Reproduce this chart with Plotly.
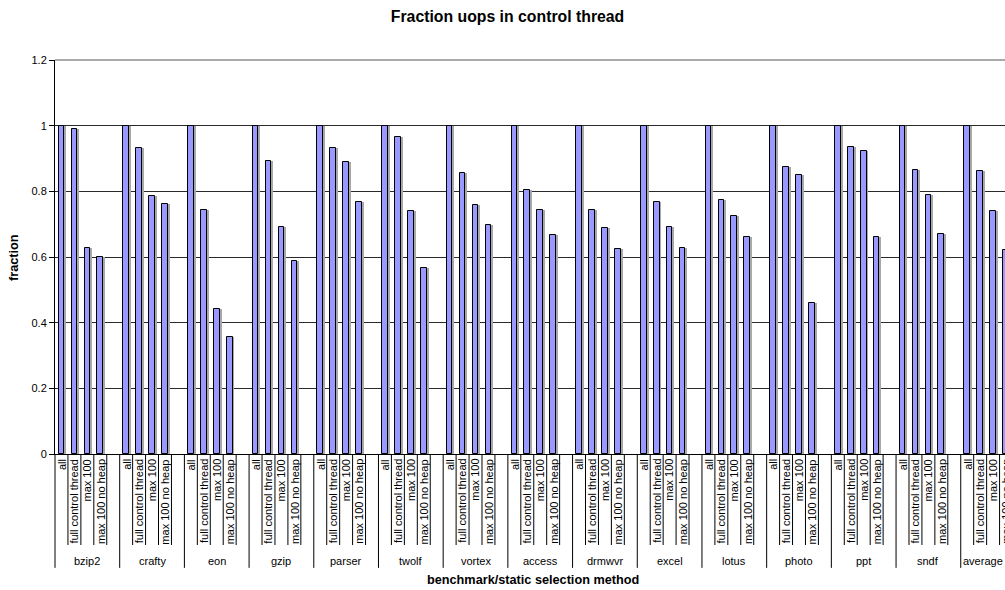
import plotly.graph_objects as go

# Benchmarks (outer category level) and static selection methods (inner level)
groups = ["bzip2", "crafty", "eon", "gzip", "parser", "twolf", "vortex",
          "access", "drmwvr", "excel", "lotus", "photo", "ppt", "sndf", "average"]
methods = ["all", "full control thread", "max 100", "max 100 no heap"]

# Fraction of uops in the control thread, one list per selection method
frac_all = [1.0, 1.0, 1.0, 1.0, 1.0, 1.0, 1.0, 1.0, 1.0, 1.0, 1.0, 1.0, 1.0, 1.0, 1.0]
frac_full = [0.991, 0.931, 0.744, 0.892, 0.933, 0.964, 0.857, 0.803, 0.742,
             0.767, 0.773, 0.873, 0.936, 0.864, 0.861]
frac_max100 = [0.627, 0.786, 0.441, 0.691, 0.888, 0.739, 0.757, 0.744, 0.688,
               0.691, 0.725, 0.849, 0.924, 0.789, 0.739]
frac_max100_noheap = [0.601, 0.760, 0.357, 0.588, 0.768, 0.566, 0.699, 0.666, 0.623,
                      0.626, 0.660, 0.460, 0.662, 0.669, 0.621]

series = [frac_all, frac_full, frac_max100, frac_max100_noheap]
SLOTS = len(methods) + 1          # one empty slot after each benchmark
X_MIN, X_MAX = -0.5, 72.92        # visible category window

xs, ys, labels = [], [], []
for g, name in enumerate(groups):
    for m, meth in enumerate(methods):
        xs.append(g * SLOTS + m)
        ys.append(series[m][g])
        labels.append(meth)

FONT = "Liberation Sans, Arial, sans-serif"
BAR_W = 0.44

fig = go.Figure()
# soft drop shadow behind each bar
fig.add_trace(go.Bar(x=xs, y=ys, width=BAR_W, offset=-BAR_W / 2 + 0.15,
                     marker=dict(color="#a8a8a8", line=dict(width=0)),
                     hoverinfo="skip", showlegend=False))
fig.add_trace(go.Bar(x=xs, y=ys, width=BAR_W, offset=-BAR_W / 2,
                     marker=dict(color="#9999ff", line=dict(color="#000000", width=1)),
                     showlegend=False))


def px(v):
    """data x -> paper x"""
    return (v - X_MIN) / (X_MAX - X_MIN)


shapes = []
annotations = []
n_slots = len(groups) * SLOTS
for k in range(n_slots + 1):
    b = k - 0.5
    if b > X_MAX:
        break
    is_group = (k % SLOTS == 0)
    shapes.append(dict(type="line", xref="paper", yref="paper",
                       x0=px(b), x1=px(b), y0=0, y1=-0.289 if is_group else -0.231,
                       line=dict(color="#000000", width=1)))

for x, lab in zip(xs, labels):
    annotations.append(dict(x=px(x), y=-0.008, xref="paper", yref="paper",
                            text=lab, textangle=-90, showarrow=False,
                            xanchor="center", yanchor="top",
                            font=dict(family=FONT, size=11, color="#000000")))

# benchmark names, centred on the visible part of each group
for g, name in enumerate(groups):
    lo = g * SLOTS - 0.5
    hi = min(lo + SLOTS, X_MAX)
    cx = (lo + hi) / 2
    annotations.append(dict(x=px(cx), y=-0.2716, xref="paper", yref="paper",
                            text=name, showarrow=False, xanchor="center", yanchor="middle",
                            font=dict(family=FONT, size=11, color="#000000")))

annotations.append(dict(x=0.503, y=-0.320, xref="paper", yref="paper",
                        text="<b>benchmark/static selection method</b>", showarrow=False,
                        xanchor="center", yanchor="middle",
                        font=dict(family=FONT, size=12.7, color="#000000")))
annotations.append(dict(x=-0.0432, y=0.5, xref="paper", yref="paper",
                        text="<b>fraction</b>", textangle=-90, showarrow=False,
                        xanchor="center", yanchor="middle",
                        font=dict(family=FONT, size=12.7, color="#000000")))

# top edge of the plot area
shapes.append(dict(type="line", xref="paper", yref="paper", x0=0, x1=1, y0=1, y1=1,
                   line=dict(color="#8c8c8c", width=1.5)))

fig.update_layout(
    width=1005, height=590,
    margin=dict(l=55, r=0, t=60, b=136),
    paper_bgcolor="#ffffff", plot_bgcolor="#ffffff",
    barmode="overlay", bargap=0,
    title=dict(text="<b>Fraction uops in control thread</b>", x=0.505, xanchor="center",
               y=1 - 16 / 590, yanchor="middle",
               font=dict(family=FONT, size=15.8, color="#000000")),
    font=dict(family=FONT, size=11, color="#000000"),
    xaxis=dict(range=[X_MIN, X_MAX], showticklabels=False, showgrid=False,
               zeroline=False, showline=True, linecolor="#000000", linewidth=1,
               ticks=""),
    yaxis=dict(range=[0, 1.2], dtick=0.2, showgrid=True, gridcolor="#2a2a2a", gridwidth=1,
               zeroline=False, showline=True, linecolor="#000000", linewidth=1,
               ticks="outside", ticklen=5, tickcolor="#000000",
               tickfont=dict(family=FONT, size=11, color="#000000")),
    shapes=shapes,
    annotations=annotations,
)

fig.write_html("out.html")
